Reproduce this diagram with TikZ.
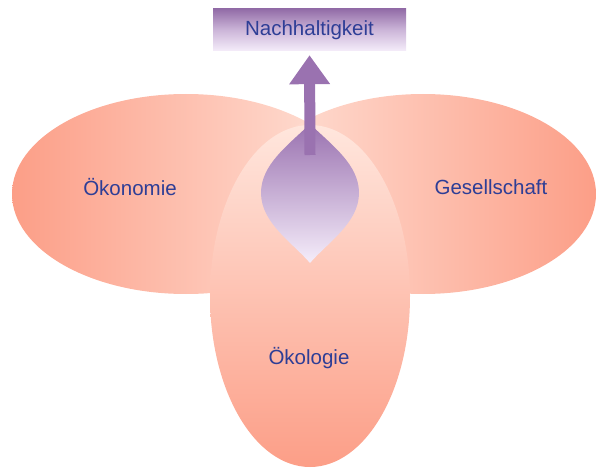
\documentclass[tikz,border=0pt]{standalone}
\usepackage{fontspec}
\setmainfont{Liberation Sans}
\usetikzlibrary{shapes.geometric,arrows.meta}
\definecolor{salmon}{HTML}{FC9E87}
\definecolor{peach}{HTML}{FFE3D9}
\definecolor{peachtop}{HTML}{FFE6DD}
\definecolor{lila}{HTML}{9A72B0}
\definecolor{lilalight}{HTML}{F5EDFA}
\definecolor{txtblue}{HTML}{2E3E96}
\tikzset{
  circlebox/.style={ellipse, inner sep=0pt, draw=none},
  lbl/.style={text=txtblue, font=\fontsize{20.5}{24}\selectfont, inner sep=0pt},
}
\begin{document}
\begin{tikzpicture}[x=1pt,y=-1pt]
\useasboundingbox (0,0) rectangle (597,468);
% three circles
\node[circlebox, minimum width=348pt, minimum height=200pt, left color=salmon, right color=peach] (oek) at (186,194) {};
\node[circlebox, minimum width=346pt, minimum height=200pt, left color=peach, right color=salmon] (ges) at (423,194) {};
\node[circlebox, minimum width=200pt, minimum height=342pt, top color=peachtop, bottom color=salmon] (oeko) at (310,296) {};
% leaf
\shade[top color=lila, bottom color=lilalight]
  (310,124) .. controls (287,146) and (261,165) .. (261,193)
  .. controls (261,223) and (293,243) .. (310,263)
  .. controls (327,243) and (359,223) .. (359,193)
  .. controls (359,165) and (333,146) .. (310,124) -- cycle;
\coordinate (leafbase) at (310,155);
% title
\node[lbl, minimum width=193pt, minimum height=42pt, top color=lila!95!black!100, bottom color=lilalight, middle color=lila!45!lilalight] (title) at (309.5,30) {Nachhaltigkeit};
% labels
\node[lbl] (toek) at (130,187) {Ökonomie};
\node[lbl] (tges) at (491,187) {Gesellschaft};
\node[lbl] (toeko) at (309,358) {Ökologie};
% arrow
\draw[draw=lila, fill=lila, line width=11pt, -{Triangle[width=39pt,length=29pt]}, shorten >=4pt] (leafbase) -- (title.south);
\end{tikzpicture}
\end{document}
